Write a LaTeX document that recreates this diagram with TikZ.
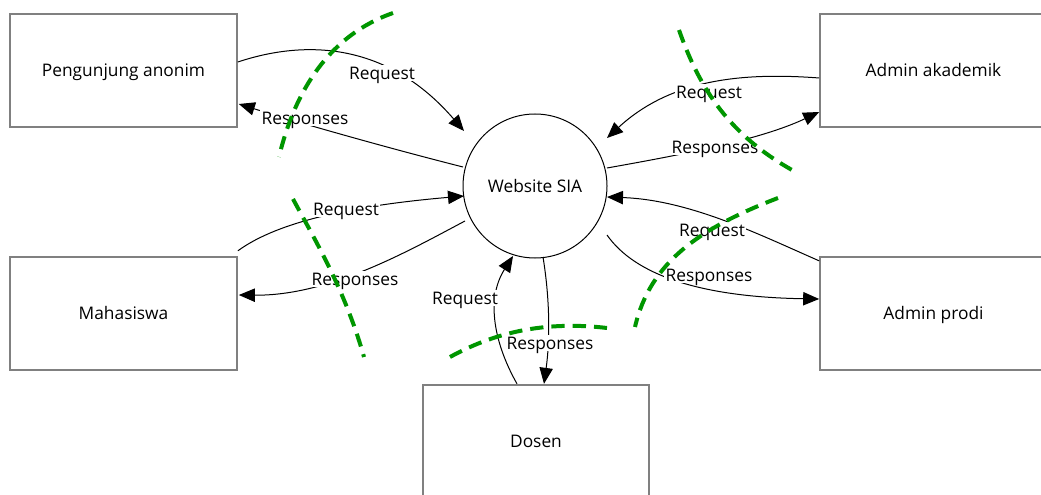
\documentclass[tikz,border=0pt]{standalone}
\usepackage{fontspec}
\setmainfont{Open Sans}
\usetikzlibrary{arrows.meta}
\definecolor{boxgray}{RGB}{128,128,128}
\definecolor{cutgreen}{RGB}{0,150,0}
\tikzset{
  txt/.style={font=\fontsize{13pt}{15pt}\selectfont, text height=0.96em, text depth=0.02em},
  entity/.style={draw=boxgray, line width=1.5pt, fill=white, rectangle,
    minimum width=170pt, minimum height=85pt, inner sep=0pt, txt},
  process/.style={draw=black, line width=0.75pt, fill=white, circle,
    minimum size=108pt, inner sep=0pt, txt},
  flow/.style={draw=black, line width=0.75pt, -{Triangle[length=12pt,width=10pt]}},
  flowlabel/.style={fill=white, inner sep=1pt, txt},
  boundary/.style={draw=cutgreen, line width=3pt, dash pattern=on 10pt off 6pt}
}
\begin{document}
\begin{tikzpicture}[x=0.75pt,y=-0.75pt]
\useasboundingbox (0,0) rectangle (1041,495);
\fill[white] (0,0) rectangle (1041,495);

% external entities and the system
\node[process] (web) at (535,186) {Website SIA};
\node[entity] (pa) at (123.5,70.5) {Pengunjung anonim};
\node[entity] (aa) at (933.5,70.5) {Admin akademik};
\node[entity] (mh) at (123.5,313.5) {Mahasiswa};
\node[entity] (ap) at (933.5,313.5) {Admin prodi};
\node[entity] (ds) at (536,441.5) {Dosen};

% data flows
\draw[flow] ([shift={(0,-8.5)}]pa.east) .. controls (310,38) and (390,45) .. ([shift={(-71,-55)}]web.center);
\draw[flow] ([shift={(-72,-19)}]web.center) .. controls (380,146) and (290,120) .. ([shift={(1,33.5)}]pa.east);
\draw[flow] ([shift={(0,7.5)}]aa.west) .. controls (740,72) and (670,80) .. ([shift={(72,-48)}]web.center);
\draw[flow] ([shift={(72,-18)}]web.center) .. controls (680,155) and (760,140) .. ([shift={(0,41.5)}]aa.west);
\draw[flow] ([shift={(0,-5)}]mh.north east) .. controls (280,220) and (360,205) .. ([shift={(-71,10)}]web.center);
\draw[flow] ([shift={(-70,35)}]web.center) .. controls (410,250) and (330,296) .. ([shift={(1,-18.5)}]mh.east);
\draw[flow] ([shift={(-19,0)}]ds.north) .. controls (495,345) and (485,300) .. ([shift={(-22,70)}]web.center);
\draw[flow] ([shift={(8,71)}]web.center) .. controls (550,300) and (550,340) .. ([shift={(8,0)}]ds.north);
\draw[flow] ([shift={(0,5)}]ap.north west) .. controls (760,235) and (690,200) .. ([shift={(72,11)}]web.center);
\draw[flow] ([shift={(72,49)}]web.center) .. controls (635,275) and (700,297) .. ([shift={(0,-14.5)}]ap.west);

% flow labels
\node[flowlabel] (l1) at (382,73) {Request};
\node[flowlabel] (l2) at (305,118) {Responses};
\node[flowlabel] (l3) at (709,92) {Request};
\node[flowlabel] (l4) at (715,147) {Responses};
\node[flowlabel] (l5) at (346,209) {Request};
\node[flowlabel] (l6) at (355,279) {Responses};
\node[flowlabel] (l7) at (465,298) {Request};
\node[flowlabel] (l8) at (550,343) {Responses};
\node[flowlabel] (l9) at (712,230) {Request};
\node[flowlabel] (l10) at (709,275) {Responses};

% trust boundaries
\draw[boundary] (393,13) .. controls (330,35) and (295,90) .. (279,157);
\draw[boundary] (679,30) .. controls (700,90) and (730,135) .. (792,170);
\draw[boundary] (293,199) .. controls (315,240) and (345,290) .. (364,357);
\draw[boundary] (450,357) .. controls (490,335) and (540,320) .. (607,328);
\draw[boundary] (778,198) .. controls (700,228) and (650,262) .. (635,327);
\end{tikzpicture}
\end{document}
